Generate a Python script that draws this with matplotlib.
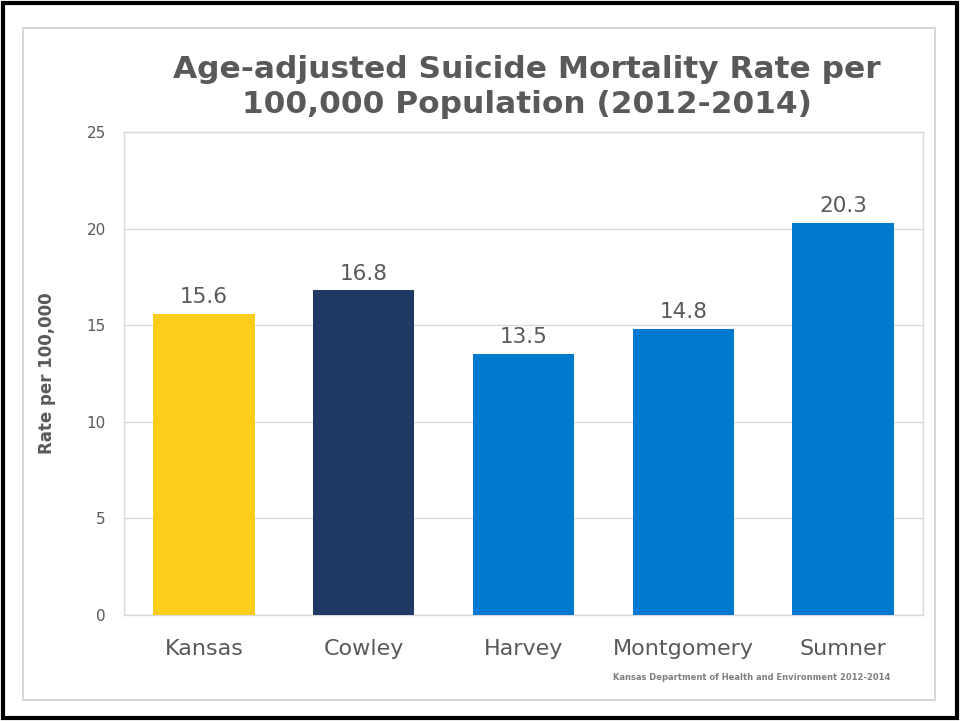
import matplotlib.pyplot as plt
from matplotlib.patches import Rectangle

# chart data
counties = ['Kansas', 'Cowley', 'Harvey', 'Montgomery', 'Sumner']
rates = [15.6, 16.8, 13.5, 14.8, 20.3]
bar_colors = ['#FDCD1C', '#203864', '#0079D1', '#0079D1', '#0079D1']
y_ticks = [0, 5, 10, 15, 20, 25]

gray = '#595959'

fig = plt.figure(figsize=(9.6, 7.21), dpi=100)

# outer black frame and the light gray chart border
fig.patches.append(Rectangle((3 / 960, 3 / 721), 954 / 960, 715 / 721, transform=fig.transFigure,
                             fill=False, edgecolor='black', linewidth=3))
fig.patches.append(Rectangle((23 / 960, 21 / 721), 912 / 960, 672 / 721, transform=fig.transFigure,
                             fill=False, edgecolor='#D0D0D0', linewidth=1.2))

ax = fig.add_axes([124 / 960, 106 / 721, 799 / 960, 483 / 721])
bars = ax.bar(range(len(counties)), rates, width=0.635, color=bar_colors, zorder=3)

for b, v in zip(bars, rates):
    ax.text(b.get_x() + b.get_width() / 2, v + 0.35, f'{v}', ha='center', va='bottom',
            fontsize=15.5, color=gray)

ax.set_xlim(-0.5, len(counties) - 0.5)
ax.set_ylim(0, 25)
ax.set_yticks(y_ticks)
ax.set_xticks(range(len(counties)))
ax.set_xticklabels(counties, fontsize=16, color=gray)
ax.tick_params(axis='y', labelsize=11, labelcolor=gray, length=0, pad=13)
ax.tick_params(axis='x', length=0, pad=17)
ax.grid(axis='y', color='#D9D9D9', linewidth=1, zorder=0)
for s in ax.spines.values():
    s.set_color('#D9D9D9')
    s.set_linewidth(1)

ax.set_ylabel('Rate per 100,000', fontsize=12, fontweight='bold', color=gray, labelpad=22)

fig.text(527 / 960, 1 - 87 / 721, 'Age-adjusted Suicide Mortality Rate per\n100,000 Population (2012-2014)',
         ha='center', va='center', fontsize=22.5, fontweight='bold', color=gray, linespacing=1.3)

fig.text(752 / 960, 1 - 677 / 721, 'Kansas Department of Health and Environment 2012-2014',
         ha='center', va='center', fontsize=6, fontweight='bold', color='#7F7F7F')

fig.savefig('out.png', dpi=100)
